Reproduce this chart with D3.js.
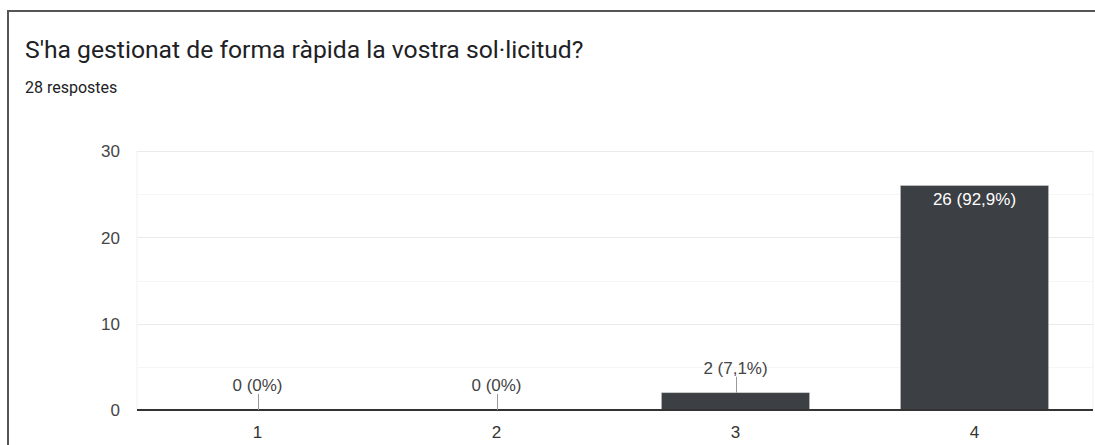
<!DOCTYPE html>
<html><head><meta charset="utf-8">
<script src="https://cdn.jsdelivr.net/npm/d3@7"></script>
<style>
html,body{margin:0;padding:0;background:#fff;}
svg{display:block;}
</style></head>
<body>
<svg id="c" width="1095" height="445"></svg>
<script>
const title = "S'ha gestionat de forma ràpida la vostra sol·licitud?";
const subtitle = "28 respostes";
const categories = ["1", "2", "3", "4"];
const counts = [0, 0, 2, 26];
const labels = ["0 (0%)", "0 (0%)", "2 (7,1%)", "26 (92,9%)"];
const yTicks = [0, 10, 20, 30];
const yMinorTicks = [5, 15, 25];

const svg = d3.select("#c");
svg.append("path").attr("d", "M8,445 L8,11 L1095,11").attr("fill", "none")
  .attr("stroke", "#555").attr("stroke-width", 2);

svg.append("text").attr("x", 25).attr("y", 58).text(title)
  .attr("font-family", "Roboto").attr("font-size", 24.7).attr("fill", "#202124");
svg.append("text").attr("x", 25).attr("y", 93).text(subtitle)
  .attr("font-family", "Roboto").attr("font-size", 16).attr("fill", "#202124");

const pLeft = 137, pRight = 1093, pTop = 151, pBottom = 410;
const x = d3.scaleBand().domain(categories).range([pLeft + 1, pRight + 1]).paddingInner(0.38).paddingOuter(0.19);
const y = d3.scaleLinear().domain([0, 30]).range([pBottom, pTop]);

const font = "Liberation Sans, Arial, sans-serif";
const fs = 17;
svg.append("line").attr("x1", pLeft).attr("x2", pLeft).attr("y1", pTop).attr("y2", pBottom).attr("stroke", "#f0f0f0");
svg.append("line").attr("x1", pRight).attr("x2", pRight).attr("y1", pTop).attr("y2", pBottom).attr("stroke", "#f0f0f0");

svg.append("g").selectAll("line").data(yMinorTicks).join("line")
  .attr("x1", pLeft).attr("x2", pRight).attr("y1", d => Math.round(y(d)) + 0.5).attr("y2", d => Math.round(y(d)) + 0.5)
  .attr("stroke", "#f5f5f5");
svg.append("g").selectAll("line").data(yTicks.filter(d => d > 0)).join("line")
  .attr("x1", pLeft).attr("x2", pRight).attr("y1", d => Math.round(y(d)) + 0.5).attr("y2", d => Math.round(y(d)) + 0.5)
  .attr("stroke", "#ebebeb");

const yAxis = d3.axisLeft(y).tickValues(yTicks).tickSize(0).tickPadding(0);
const gy = svg.append("g").attr("transform", `translate(${pLeft - 17},0)`).call(yAxis);
gy.select(".domain").remove();
gy.selectAll("text").attr("font-family", font).attr("font-size", fs).attr("fill", "#444").attr("dy", "0.35em");

const data = categories.map((c, i) => ({c, v: counts[i], l: labels[i]}));
svg.append("g").selectAll("rect").data(data.filter(d => d.v > 0)).join("rect")
  .attr("x", d => x(d.c)).attr("width", x.bandwidth())
  .attr("y", d => y(d.v)).attr("height", d => y(0) - y(d.v))
  .attr("fill", "#3c3f43").attr("stroke", "#c8c8c8").attr("stroke-width", 0.6);

svg.append("line").attr("x1", pLeft).attr("x2", pRight).attr("y1", pBottom).attr("y2", pBottom)
  .attr("stroke", "#333").attr("stroke-width", 2);

const xAxis = d3.axisBottom(x).tickSize(0).tickPadding(0);
const gx = svg.append("g").attr("transform", `translate(0,${pBottom + 22})`).call(xAxis);
gx.select(".domain").remove();
gx.selectAll("text").attr("font-family", font).attr("font-size", fs).attr("fill", "#333").attr("dy", "0.35em");

data.forEach(d => {
  const cx = x(d.c) + x.bandwidth() / 2;
  if (d.v >= 10) {
    svg.append("text").attr("x", cx).attr("y", y(d.v) + 19).attr("text-anchor", "middle")
      .attr("font-family", font).attr("font-size", fs).attr("fill", "#fff").text(d.l);
  } else {
    const yt = y(d.v);
    svg.append("line").attr("x1", Math.round(cx) + 0.5).attr("x2", Math.round(cx) + 0.5)
      .attr("y1", yt - 16).attr("y2", yt).attr("stroke", "#999").attr("stroke-width", 1);
    svg.append("text").attr("x", cx).attr("y", yt - 19).attr("text-anchor", "middle")
      .attr("font-family", font).attr("font-size", fs).attr("fill", "#444").text(d.l);
  }
});
</script>
</body></html>
